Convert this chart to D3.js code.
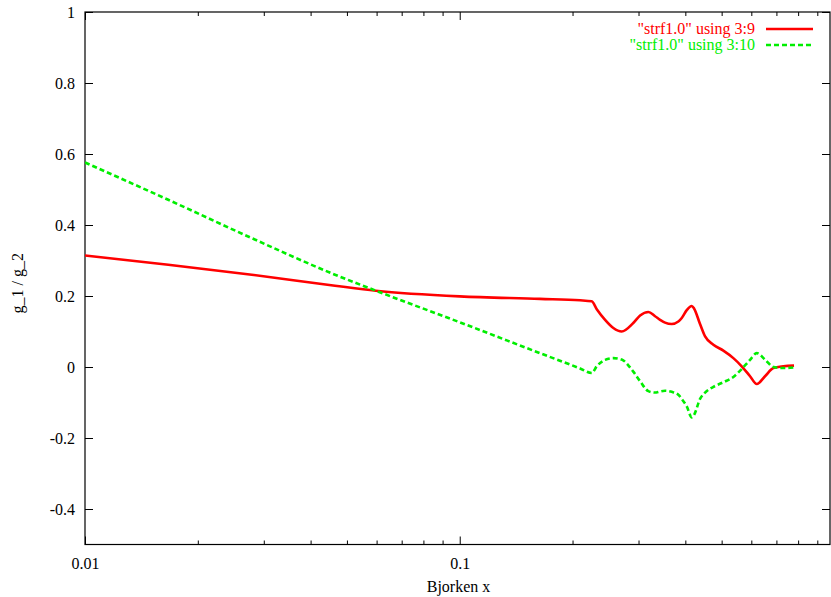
<!DOCTYPE html>
<html>
<head>
<meta charset="utf-8">
<script src="https://cdn.jsdelivr.net/npm/d3@7"></script>
<style>
  html, body { margin: 0; padding: 0; background: #fff; }
  svg { display: block; }
  text { font-family: "Liberation Serif", "DejaVu Serif", serif; font-size: 16px; fill: #000; }
  .axis path { display: none; }
  .axis line { stroke: #000; stroke-width: 1; }
</style>
</head>
<body>
<svg id="chart" width="831" height="597"></svg>
<script>
// Bjorken x sample points
const bjorkenX = [
  0.0100, 0.01668, 0.02786, 0.04647, 0.0597, 0.100, 0.1637, 0.2094, 0.2250,
  0.2321, 0.2443, 0.2570, 0.2705, 0.2905, 0.3029, 0.3187, 0.3321, 0.3424,
  0.3531, 0.3680, 0.3832, 0.3913, 0.4035, 0.4161, 0.4220, 0.4378, 0.4516,
  0.4752, 0.5052, 0.5373, 0.5655, 0.5953, 0.6204, 0.6527, 0.6871, 0.7306, 0.7800
];
// "strf1.0" using 3:9
const col9 = [
  0.314, 0.288, 0.260, 0.229, 0.215, 0.199, 0.192, 0.188, 0.185,
  0.163, 0.133, 0.110, 0.100, 0.124, 0.145, 0.155, 0.143, 0.133,
  0.125, 0.121, 0.128, 0.138, 0.160, 0.172, 0.165, 0.121, 0.086,
  0.063, 0.046, 0.025, 0.002, -0.026, -0.048, -0.026, -0.003, 0.002, 0.004
];
// "strf1.0" using 3:10
const col10 = [
  0.576, 0.471, 0.363, 0.260, 0.215, 0.126, 0.039, -0.004, -0.017,
  0.002, 0.020, 0.025, 0.021, -0.013, -0.040, -0.068, -0.072, -0.069,
  -0.067, -0.070, -0.078, -0.090, -0.111, -0.142, -0.135, -0.090, -0.072,
  -0.056, -0.043, -0.028, -0.006, 0.020, 0.039, 0.021, 0.000, -0.003, -0.001
];
const seriesNames = ['"strf1.0" using 3:9', '"strf1.0" using 3:10'];
const seriesColors = ["#ff0000", "#00ee00"];

const xMajorTicks = [0.01, 0.1];
const xMajorLabels = ["0.01", "0.1"];
const xMinorTicks = [0.02, 0.03, 0.04, 0.05, 0.06, 0.07, 0.08, 0.09,
                     0.2, 0.3, 0.4, 0.5, 0.6, 0.7, 0.8, 0.9];
const yTicks = [-0.4, -0.2, 0, 0.2, 0.4, 0.6, 0.8, 1];
const yTickLabels = ["-0.4", "-0.2", "0", "0.2", "0.4", "0.6", "0.8", "1"];
const xDomain = [0.01, 0.973];
const yDomain = [-0.5, 1];

const svg = d3.select("#chart");
const plotLeft = 85, plotRight = 830, plotTop = 12, plotBottom = 544.5;
const serif = '"Liberation Serif", "DejaVu Serif", serif';

const x = d3.scaleLog().domain(xDomain).range([plotLeft, plotRight]);
const y = d3.scaleLinear().domain(yDomain).range([plotBottom, plotTop]);

// Axes with inward ticks on all four sides
const fmtX = d => xMajorLabels[xMajorTicks.indexOf(d)];
const fmtY = d => yTickLabels[yTicks.indexOf(d)];

const axisGroup = (tx, ty) => svg.append("g").attr("class", "axis")
  .attr("transform", `translate(${tx},${ty})`);

axisGroup(0, plotBottom)
  .call(d3.axisBottom(x).tickValues(xMajorTicks).tickFormat(fmtX).tickSize(-8).tickPadding(13));
axisGroup(0, plotBottom)
  .call(d3.axisBottom(x).tickValues(xMinorTicks).tickFormat("").tickSize(-4));
axisGroup(0, plotTop)
  .call(d3.axisTop(x).tickValues(xMajorTicks).tickFormat("").tickSize(-8));
axisGroup(0, plotTop)
  .call(d3.axisTop(x).tickValues(xMinorTicks).tickFormat("").tickSize(-4));
axisGroup(plotLeft, 0)
  .call(d3.axisLeft(y).tickValues(yTicks).tickFormat(fmtY).tickSize(-8).tickPadding(10));
axisGroup(plotRight, 0)
  .call(d3.axisRight(y).tickValues(yTicks).tickFormat("").tickSize(-8));

svg.selectAll(".axis").attr("font-family", serif).attr("font-size", 16);
svg.selectAll(".axis text").style("font-family", serif).style("font-size", "16px");

// Plot border
svg.append("rect")
  .attr("x", plotLeft).attr("y", plotTop)
  .attr("width", plotRight - plotLeft).attr("height", plotBottom - plotTop)
  .attr("fill", "none").attr("stroke", "#000").attr("stroke-width", 1.2);

// Axis titles
svg.append("text").attr("x", (plotLeft + plotRight) / 2 + 1).attr("y", 592)
  .attr("text-anchor", "middle").text("Bjorken x");
svg.append("text")
  .attr("transform", `translate(23,${(plotTop + plotBottom) / 2 + 5}) rotate(-90)`)
  .attr("text-anchor", "middle").text("g_1 / g_2");

// Curves, clipped to the plot frame
svg.append("clipPath").attr("id", "plotclip")
  .append("rect").attr("x", plotLeft).attr("y", plotTop)
  .attr("width", plotRight - plotLeft).attr("height", plotBottom - plotTop);

const line = vals => d3.line()
  .x((d, i) => x(bjorkenX[i]))
  .y(d => y(d))
  .curve(d3.curveMonotoneX)(vals);

const series = [col9, col10];
series.forEach((vals, k) => {
  svg.append("path")
    .attr("d", line(vals))
    .attr("fill", "none")
    .attr("stroke", seriesColors[k])
    .attr("stroke-width", 2.6)
    .attr("stroke-linejoin", "round")
    .attr("stroke-dasharray", k === 1 ? "5,3" : null)
    .attr("clip-path", "url(#plotclip)");
});

// Legend
const legendRows = [29, 45];
seriesNames.forEach((name, k) => {
  svg.append("text")
    .attr("x", 755).attr("y", legendRows[k] + 5)
    .attr("text-anchor", "end")
    .style("fill", seriesColors[k])
    .text(name);
  svg.append("line")
    .attr("x1", 766).attr("x2", 813)
    .attr("y1", legendRows[k]).attr("y2", legendRows[k])
    .attr("stroke", seriesColors[k])
    .attr("stroke-width", 2.6)
    .attr("stroke-dasharray", k === 1 ? "5,3" : null);
});
</script>
</body>
</html>
